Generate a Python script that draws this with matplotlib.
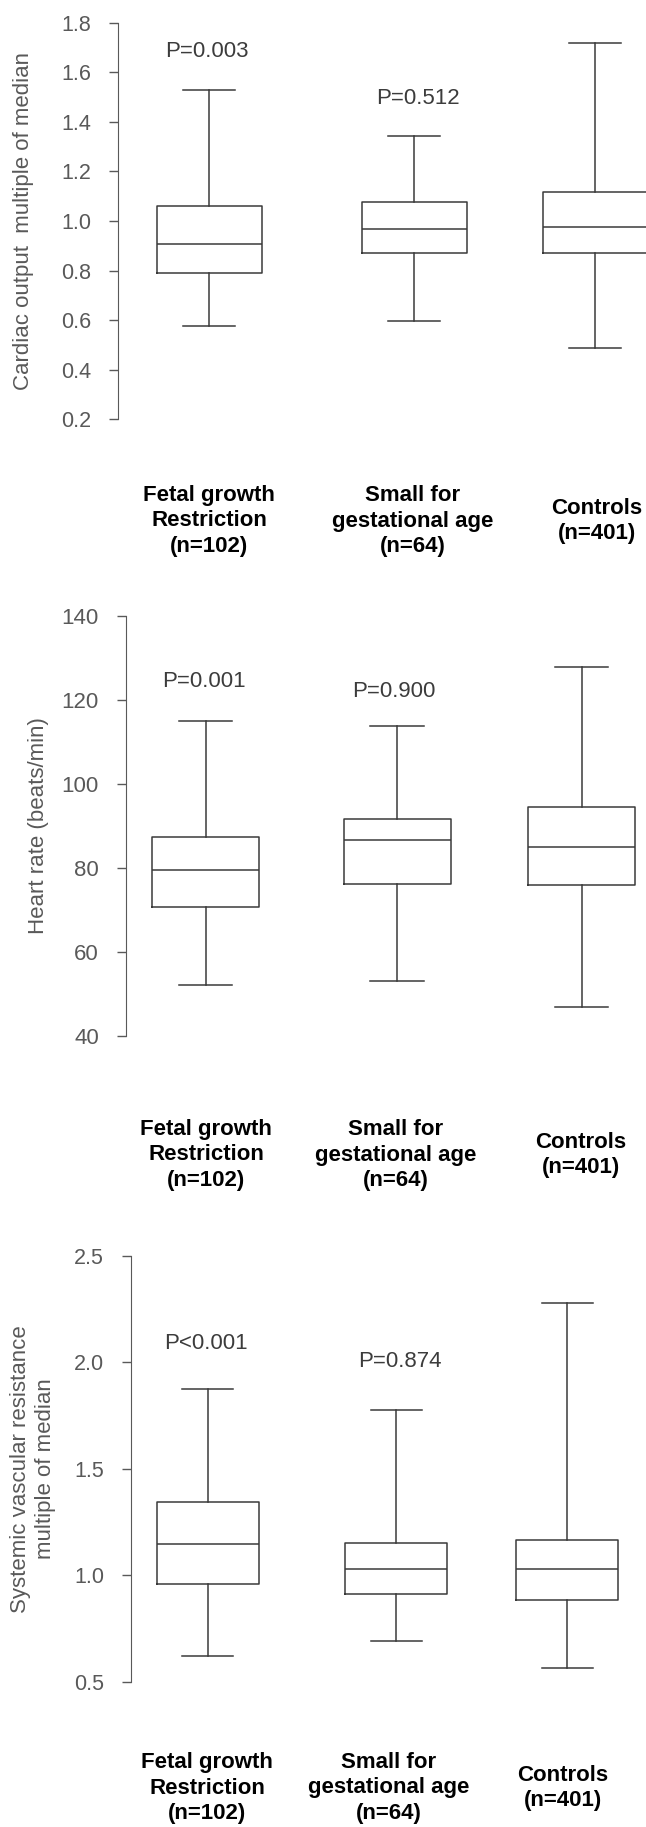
import matplotlib
matplotlib.use('Agg')
import matplotlib.pyplot as plt
from matplotlib import transforms

plt.rcParams['font.family'] = ['Liberation Sans', 'DejaVu Sans']

# groups shown under every panel
group_labels = ['Fetal growth\nRestriction\n(n=102)',
                'Small for\ngestational age\n(n=64)',
                'Controls\n(n=401)']

# panel 1: cardiac output, multiple of median
co_whislo = [0.577, 0.598, 0.486]
co_q1 = [0.790, 0.870, 0.870]
co_med = [0.909, 0.966, 0.977]
co_q3 = [1.060, 1.078, 1.117]
co_whishi = [1.528, 1.343, 1.720]
co_pvals = ['P=0.003', 'P=0.512']
co_ticks = [0.2, 0.4, 0.6, 0.8, 1.0, 1.2, 1.4, 1.6, 1.8]

# panel 2: heart rate
hr_whislo = [52.1, 53.1, 47.0]
hr_q1 = [70.8, 76.3, 76.0]
hr_med = [79.5, 86.7, 85.1]
hr_q3 = [87.4, 91.7, 94.6]
hr_whishi = [114.9, 113.9, 127.9]
hr_pvals = ['P=0.001', 'P=0.900']
hr_ticks = [40, 60, 80, 100, 120, 140]

# panel 3: systemic vascular resistance, multiple of median
svr_whislo = [0.622, 0.691, 0.565]
svr_q1 = [0.959, 0.912, 0.884]
svr_med = [1.146, 1.029, 1.029]
svr_q3 = [1.343, 1.152, 1.168]
svr_whishi = [1.873, 1.775, 2.276]
svr_pvals = ['P<0.001', 'P=0.874']
svr_ticks = [0.5, 1.0, 1.5, 2.0, 2.5]

W, H = 646, 1827
LINE = '#3a3a3a'
GREY = '#595959'

fig = plt.figure(figsize=(W / 100, H / 100), dpi=100)


def make_stats(lo, q1, med, q3, hi):
    return [dict(whislo=a, q1=b, med=c, q3=d, whishi=e, fliers=[])
            for a, b, c, d, e in zip(lo, q1, med, q3, hi)]


def panel(stats, ticks, fmt, ylabel, pvals, lay):
    top, bot = lay['top'], lay['bottom']
    ax = fig.add_axes([0, 1 - bot / H, 1, (bot - top) / H])
    ax.set_xlim(0, W)
    ax.set_ylim(ticks[0], ticks[-1])
    bw = lay['width']
    props = dict(color=LINE, linewidth=1.1)
    ax.bxp(stats, positions=lay['centers'], widths=bw, capwidths=bw * 0.5,
           showfliers=False, manage_ticks=False,
           boxprops=props, whiskerprops=props, capprops=props,
           medianprops=props)
    for s in ['top', 'right', 'bottom']:
        ax.spines[s].set_visible(False)
    ax.spines['left'].set_position(('data', lay['spine']))
    ax.spines['left'].set_bounds(ticks[0], ticks[-1])
    ax.spines['left'].set_color(GREY)
    ax.set_xticks([])
    ax.set_yticks(ticks)
    ax.set_yticklabels([fmt.format(t) for t in ticks])
    ax.tick_params(axis='y', length=6.5, width=1.0, color=GREY,
                   labelcolor=GREY, labelsize=lay['tsize'], pad=13)

    # y label
    ax.text(lay['ylab_x'], 0.5, ylabel, rotation=90, ha='center', va='center',
            fontsize=16, color=GREY, linespacing=1.3,
            transform=transforms.blended_transform_factory(ax.transData, ax.transAxes))

    # p-values over the two case groups
    for txt, (px, py) in zip(pvals, lay['pvals']):
        ax.text(px, py, txt, ha='center', va='center', fontsize=16, color='#3c3c3c')

    # group names below
    tr = transforms.blended_transform_factory(ax.transData, fig.transFigure)
    for lbl, gx in zip(group_labels, lay['label_x']):
        ax.text(gx, 1 - lay['label_y'] / H, lbl, transform=tr, ha='center',
                va='center', fontsize=16, fontweight='bold', linespacing=1.3,
                color='black')
    return ax


panel(make_stats(co_whislo, co_q1, co_med, co_q3, co_whishi), co_ticks, '{:.1f}',
      'Cardiac output  multiple of median', co_pvals,
      dict(top=22.7, bottom=419.3, spine=118, centers=[209, 414, 595], width=105,
           tsize=15.5, ylab_x=24, pvals=[(207, 1.682), (418, 1.496)],
           label_x=[209, 413, 597], label_y=521))

panel(make_stats(hr_whislo, hr_q1, hr_med, hr_q3, hr_whishi), hr_ticks, '{:.0f}',
      'Heart rate (beats/min)', hr_pvals,
      dict(top=616, bottom=1036, spine=126, centers=[205.5, 397, 581.5], width=107,
           tsize=16, ylab_x=39, pvals=[(204, 124.3), (394, 122.0)],
           label_x=[206, 396, 581], label_y=1155))

panel(make_stats(svr_whislo, svr_q1, svr_med, svr_q3, svr_whishi), svr_ticks, '{:.1f}',
      'Systemic vascular resistance\nmultiple of median', svr_pvals,
      dict(top=1255.7, bottom=1682, spine=131, centers=[207.5, 396, 567], width=102,
           tsize=15.5, ylab_x=33, pvals=[(206, 2.087), (400, 2.005)],
           label_x=[207, 389, 563], label_y=1788))

fig.savefig('out.png', dpi=100)
